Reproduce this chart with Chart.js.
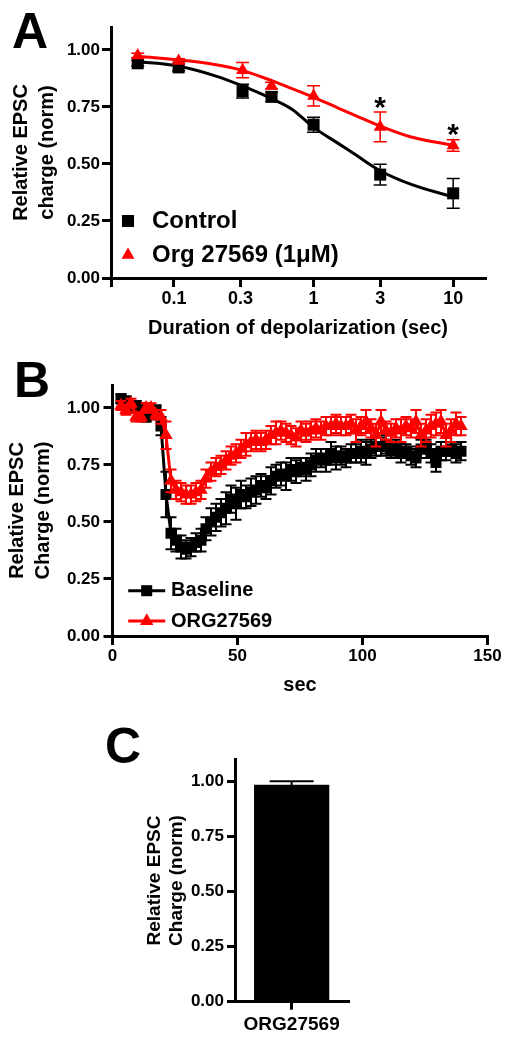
<!DOCTYPE html>
<html>
<head>
<meta charset="utf-8">
<script src="https://cdn.jsdelivr.net/npm/chart.js@4"></script>
<style>
  body { margin: 0; background: #fff; }
  #wrap { position: relative; width: 512px; height: 1044px; }
  canvas { position: absolute; left: 0; }
</style>
</head>
<body>
<div id="wrap">
  <canvas id="chart-a" width="512" height="345" style="top:0"></canvas>
  <canvas id="chart-b" width="512" height="355" style="top:345px"></canvas>
  <canvas id="chart-c" width="512" height="344" style="top:700px"></canvas>
</div>
<script>
// ---- Panel A: depolarization duration (log x) ----
const durA = [0.055, 0.108, 0.31, 0.5, 1, 3, 10];
const controlA = [0.941, 0.923, 0.819, 0.794, 0.672, 0.453, 0.371];
const controlErrA = [0.012, 0.015, 0.03, 0.02, 0.033, 0.045, 0.065];
const orgA = [0.975, 0.951, 0.911, 0.843, 0.798, 0.662, 0.581];
const orgErrA = [0.01, 0.01, 0.033, 0.015, 0.044, 0.065, 0.025];
// fitted curves
const fitXA = [0.055, 0.1, 0.2, 0.3, 0.5, 0.7, 1, 1.5, 2, 3, 5, 10];
const controlFitA = [0.948, 0.932, 0.885, 0.845, 0.786, 0.74, 0.66, 0.59, 0.54, 0.47, 0.41, 0.355];
const orgFitA = [0.972, 0.958, 0.935, 0.912, 0.865, 0.83, 0.792, 0.745, 0.712, 0.666, 0.618, 0.582];
const xMinA = 0.0354;
const xMaxA = 16.9;
const xTicksA = [0.0354, 0.1, 0.3, 1, 3, 10];
const xLabelsA = ['', '0.1', '0.3', '1', '3', '10'];
const starXA = [3, 10];
const starYA = [0.779, 0.661];

// ---- Panel B: time course ----
const timeB = [
  3.4, 5.4, 7.4, 9.4, 11.4, 13.4, 15.4, 17.4, 19.4,
  21.4, 23.4, 25.4, 27.4, 29.4, 31.4, 33.4, 35.4, 37.4, 39.4,
  41.4, 43.4, 45.4, 47.4, 49.4, 51.4, 53.4, 55.4, 57.4, 59.4,
  61.4, 63.4, 65.4, 67.4, 69.4, 71.4, 73.4, 75.4, 77.4, 79.4,
  81.4, 83.4, 85.4, 87.4, 89.4, 91.4, 93.4, 95.4, 97.4, 99.4,
  101.4, 103.4, 105.4, 107.4, 109.4, 111.4, 113.4, 115.4, 117.4, 119.4,
  121.4, 123.4, 125.4, 127.4, 129.4, 131.4, 133.4, 135.4, 137.4, 139.4
];
const baselineB = [
  1.04, 1.03, 1.00, 1.01, 1.00, 0.96, 0.97, 0.99, 0.92,
  0.62, 0.45, 0.42, 0.39, 0.38, 0.39, 0.41, 0.42, 0.47, 0.50,
  0.52, 0.54, 0.56, 0.60, 0.58, 0.62, 0.61, 0.63, 0.64, 0.66,
  0.65, 0.68, 0.70, 0.71, 0.70, 0.73, 0.72, 0.74, 0.73, 0.75,
  0.77, 0.78, 0.77, 0.80, 0.78, 0.79, 0.78, 0.80, 0.80, 0.81,
  0.80, 0.82, 0.83, 0.83, 0.84, 0.81, 0.82, 0.80, 0.81, 0.79,
  0.78, 0.82, 0.83, 0.80, 0.76, 0.81, 0.81, 0.82, 0.80, 0.81
];
const baselineErrB = [
  0.02, 0.02, 0.02, 0.02, 0.02, 0.02, 0.02, 0.02, 0.04,
  0.10, 0.07, 0.05, 0.05, 0.04, 0.04, 0.04, 0.05, 0.05, 0.06,
  0.06, 0.06, 0.07, 0.06, 0.07, 0.06, 0.05, 0.06, 0.06, 0.05,
  0.05, 0.06, 0.05, 0.05, 0.06, 0.05, 0.05, 0.04, 0.05, 0.05,
  0.05, 0.04, 0.05, 0.05, 0.05, 0.04, 0.04, 0.04, 0.04, 0.05,
  0.05, 0.04, 0.04, 0.04, 0.04, 0.03, 0.04, 0.04, 0.03, 0.04,
  0.04, 0.04, 0.03, 0.04, 0.04, 0.04, 0.04, 0.03, 0.04, 0.04
];
const orgB = [
  1.01, 0.99, 1.02, 0.96, 0.96, 1.00, 1.00, 0.97, 0.96,
  0.88, 0.68, 0.64, 0.63, 0.62, 0.62, 0.63, 0.64, 0.69, 0.72,
  0.74, 0.75, 0.77, 0.79, 0.80, 0.82, 0.84, 0.85, 0.86, 0.85,
  0.86, 0.88, 0.89, 0.90, 0.89, 0.88, 0.87, 0.90, 0.89, 0.90,
  0.91, 0.90, 0.92, 0.92, 0.93, 0.92, 0.92, 0.93, 0.90, 0.92,
  0.94, 0.91, 0.88, 0.94, 0.90, 0.89, 0.91, 0.90, 0.92, 0.91,
  0.94, 0.88, 0.90, 0.92, 0.93, 0.94, 0.88, 0.90, 0.93, 0.92
];
const orgErrB = [
  0.02, 0.02, 0.02, 0.02, 0.02, 0.02, 0.02, 0.02, 0.03,
  0.06, 0.05, 0.04, 0.04, 0.04, 0.04, 0.04, 0.04, 0.04, 0.04,
  0.04, 0.04, 0.04, 0.04, 0.04, 0.04, 0.05, 0.04, 0.04, 0.04,
  0.04, 0.04, 0.05, 0.04, 0.04, 0.04, 0.04, 0.04, 0.04, 0.04,
  0.04, 0.04, 0.04, 0.04, 0.04, 0.04, 0.04, 0.04, 0.05, 0.04,
  0.05, 0.04, 0.05, 0.05, 0.04, 0.04, 0.04, 0.05, 0.04, 0.04,
  0.05, 0.05, 0.05, 0.05, 0.05, 0.05, 0.05, 0.05, 0.05, 0.04
];
const xTicksB = [0, 50, 100, 150];

// ---- Panel C: single bar ----
const labelsC = ['ORG27569'];
const valuesC = [0.985];
const errorsC = [0.015];

const yTicks = [0, 0.25, 0.5, 0.75, 1.0];

const FONT = "'Liberation Sans', Arial, sans-serif";
const RED = '#ff0000';
Chart.defaults.font.family = FONT;
Chart.defaults.color = '#000';

const toXY = (xs, ys) => xs.map((x, i) => ({ x, y: ys[i] }));

// vertical SEM bars, drawn just before each dataset's own marks
const errorBars = {
    id: 'errorBars',
    beforeDatasetDraw(chart, args) {
        const ds = chart.data.datasets[args.index];
        if (!ds.errors) return;
        const yScale = chart.scales[args.meta.yAxisID];
        const ctx = chart.ctx;
        ctx.save();
        ctx.strokeStyle = ds.errorColor || ds.borderColor;
        ctx.lineWidth = ds.errorWidth || 1.5;
        const half = (ds.capWidth || 10) / 2;
        args.meta.data.forEach((el, i) => {
            const e = ds.errors[i];
            if (!e) return;
            const raw = ds.data[i];
            const v = typeof raw === 'object' ? raw.y : raw;
            const x = el.x;
            const y1 = yScale.getPixelForValue(v + e);
            const y2 = yScale.getPixelForValue(v - e);
            ctx.beginPath();
            ctx.moveTo(x, y1); ctx.lineTo(x, y2);
            ctx.moveTo(x - half, y1); ctx.lineTo(x + half, y1);
            ctx.moveTo(x - half, y2); ctx.lineTo(x + half, y2);
            ctx.stroke();
        });
        ctx.restore();
    }
};

// legend drawn inside the plot, like the original
const keyBox = {
    id: 'keyBox',
    afterDraw(chart, args, opts) {
        if (!opts.items) return;
        const ctx = chart.ctx;
        ctx.save();
        ctx.font = opts.font;
        ctx.textBaseline = 'middle';
        opts.items.forEach((it, i) => {
            const ds = chart.data.datasets[it.dataset];
            const y = opts.y + i * opts.gap;
            if (opts.line) {
                ctx.strokeStyle = ds.borderColor;
                ctx.lineWidth = ds.borderWidth;
                ctx.beginPath();
                ctx.moveTo(opts.x - opts.line / 2, y);
                ctx.lineTo(opts.x + opts.line / 2, y);
                ctx.stroke();
            }
            ctx.fillStyle = ds.pointBackgroundColor;
            Chart.helpers.drawPoint(ctx, { pointStyle: ds.pointStyle, radius: ds.pointRadius, rotation: 0, borderWidth: 0 }, opts.x, y);
            ctx.fillStyle = '#000';
            ctx.fillText(it.text, opts.textX, y);
        });
        ctx.restore();
    }
};

// panel letter + significance stars
const extras = {
    id: 'extras',
    afterDraw(chart, args, opts) {
        const ctx = chart.ctx;
        ctx.save();
        ctx.fillStyle = '#000';
        if (opts.letter) {
            ctx.font = 'bold 50px ' + FONT;
            ctx.textBaseline = 'alphabetic';
            ctx.textAlign = 'left';
            ctx.fillText(opts.letter, opts.lx, opts.ly);
        }
        if (opts.starsX) {
            ctx.font = 'bold 30px ' + FONT;
            ctx.textAlign = 'center';
            ctx.textBaseline = 'alphabetic';
            opts.starsX.forEach((sx, i) => {
                const px = chart.scales.x.getPixelForValue(sx);
                const py = chart.scales.y.getPixelForValue(opts.starsY[i]);
                ctx.fillText('*', px, py + 17);
            });
        }
        ctx.restore();
    }
};

const axisStyle = (tickLen) => ({
    border: { display: true, width: 3, color: '#000' },
    grid: { drawOnChartArea: false, drawTicks: true, tickLength: tickLen, lineWidth: 3, color: '#000' }
});

const yAxis = (width, title, titleSize, lineHeight, titlePad, tickSize, tickPad, tickLen) => ({
    type: 'linear',
    min: 0,
    max: 1.1,
    ...axisStyle(tickLen),
    afterFit: (scale) => { scale.width = width; },
    afterBuildTicks: (scale) => { scale.ticks = yTicks.map(v => ({ value: v })); },
    ticks: {
        padding: tickPad,
        font: { size: tickSize, weight: 'bold' },
        callback: (v) => Number(v).toFixed(2)
    },
    title: {
        display: true,
        text: title,
        font: { size: titleSize, weight: 'bold', lineHeight },
        padding: { top: titlePad, bottom: 0 }
    }
});

// ---- chart A ----
new Chart(document.getElementById('chart-a'), {
    type: 'line',
    data: {
        datasets: [
            {
                label: 'Control',
                data: toXY(durA, controlA),
                errors: controlErrA,
                showLine: false,
                pointStyle: 'rect',
                pointRadius: 8.5,
                pointBackgroundColor: '#000',
                pointBorderWidth: 0,
                borderColor: '#000',
                errorWidth: 1.5,
                capWidth: 13,
                order: 2
            },
            {
                label: 'Org 27569 (1\u03bcM)',
                data: toXY(durA, orgA),
                errors: orgErrA,
                showLine: false,
                pointStyle: 'triangle',
                pointRadius: 7.5,
                pointBackgroundColor: RED,
                pointBorderWidth: 0,
                borderColor: RED,
                errorWidth: 1.5,
                capWidth: 13,
                order: 1
            },
            {
                label: 'Control fit',
                data: toXY(fitXA, controlFitA),
                borderColor: '#000',
                borderWidth: 3,
                pointRadius: 0,
                cubicInterpolationMode: 'monotone',
                order: 4
            },
            {
                label: 'Org fit',
                data: toXY(fitXA, orgFitA),
                borderColor: RED,
                borderWidth: 3,
                pointRadius: 0,
                cubicInterpolationMode: 'monotone',
                order: 3
            }
        ]
    },
    options: {
        responsive: false,
        animation: false,
        devicePixelRatio: 1,
        layout: { padding: { left: 0, top: 27, right: 27, bottom: 0 } },
        plugins: {
            legend: { display: false },
            tooltip: { enabled: false },
            keyBox: {
                x: 128, textX: 152, y: 221, gap: 34,
                font: 'bold 24px ' + FONT,
                items: [{ dataset: 0, text: 'Control' }, { dataset: 1, text: 'Org 27569 (1\u03bcM)' }]
            },
            extras: { letter: 'A', lx: 12, ly: 48, starsX: starXA, starsY: starYA }
        },
        scales: {
            x: {
                type: 'logarithmic',
                min: xMinA,
                max: xMaxA,
                ...axisStyle(9),
                afterFit: (scale) => { scale.height = 67; },
                afterBuildTicks: (scale) => { scale.ticks = xTicksA.map(v => ({ value: v })); },
                ticks: {
                    autoSkip: false,
                    maxRotation: 0,
                    padding: 1,
                    font: { size: 18, weight: 'bold' },
                    callback: (v) => { const i = xTicksA.indexOf(Number(v)); return i < 0 ? '' : xLabelsA[i]; }
                },
                title: {
                    display: true,
                    text: 'Duration of depolarization (sec)',
                    font: { size: 20, weight: 'bold', lineHeight: 1.2 },
                    padding: { top: 0, bottom: 5 }
                }
            },
            y: yAxis(111, ['Relative EPSC', 'charge (norm)'], 20, 1.27, 9, 17, 2, 9)
        }
    },
    plugins: [errorBars, keyBox, extras]
});

// ---- chart B ----
new Chart(document.getElementById('chart-b'), {
    type: 'line',
    data: {
        datasets: [
            {
                label: 'Baseline',
                data: toXY(timeB, baselineB),
                errors: baselineErrB,
                borderColor: '#000',
                borderWidth: 3,
                pointStyle: 'rect',
                pointRadius: 7.8,
                pointBackgroundColor: '#000',
                pointBorderWidth: 0,
                errorWidth: 2,
                capWidth: 11,
                order: 2
            },
            {
                label: 'ORG27569',
                data: toXY(timeB, orgB),
                errors: orgErrB,
                borderColor: RED,
                borderWidth: 3,
                pointStyle: 'triangle',
                pointRadius: 7.8,
                pointBackgroundColor: RED,
                pointBorderWidth: 0,
                errorWidth: 2,
                capWidth: 11,
                order: 1
            }
        ]
    },
    options: {
        responsive: false,
        animation: false,
        devicePixelRatio: 1,
        layout: { padding: { left: 0, top: 40, right: 24.5, bottom: 0 } },
        plugins: {
            legend: { display: false },
            tooltip: { enabled: false },
            keyBox: {
                x: 146.7, textX: 171, y: 245.7, gap: 30.3, line: 37,
                font: 'bold 20px ' + FONT,
                items: [{ dataset: 0, text: 'Baseline' }, { dataset: 1, text: 'ORG27569' }]
            },
            extras: { letter: 'B', lx: 14, ly: 51.7 }
        },
        scales: {
            x: {
                type: 'linear',
                min: 0,
                max: 150,
                ...axisStyle(9),
                afterFit: (scale) => { scale.height = 64; },
                afterBuildTicks: (scale) => { scale.ticks = xTicksB.map(v => ({ value: v })); },
                ticks: {
                    autoSkip: false,
                    maxRotation: 0,
                    padding: 1.5,
                    font: { size: 17, weight: 'bold' }
                },
                title: {
                    display: true,
                    text: 'sec',
                    font: { size: 20, weight: 'bold', lineHeight: 1.2 },
                    padding: { top: 0, bottom: 3 }
                }
            },
            y: yAxis(112.5, ['Relative EPSC', 'Charge (norm)'], 20, 1.3, 4.3, 17, 3.5, 9)
        }
    },
    plugins: [errorBars, keyBox, extras]
});

// ---- chart C ----
new Chart(document.getElementById('chart-c'), {
    type: 'bar',
    data: {
        labels: labelsC,
        datasets: [{
            label: 'ORG27569',
            data: valuesC,
            errors: errorsC,
            backgroundColor: '#000',
            borderColor: '#000',
            borderWidth: 0,
            errorWidth: 2,
            capWidth: 44,
            categoryPercentage: 1,
            barPercentage: 0.664
        }]
    },
    options: {
        responsive: false,
        animation: false,
        devicePixelRatio: 1,
        layout: { padding: { left: 130, top: 59.3, right: 163.7, bottom: 0 } },
        plugins: {
            legend: { display: false },
            tooltip: { enabled: false },
            extras: { letter: 'C', lx: 105, ly: 63 }
        },
        scales: {
            x: {
                type: 'category',
                border: { display: true, width: 3, color: '#000' },
                grid: { offset: false, drawOnChartArea: false, drawTicks: true, tickLength: 8, lineWidth: 3, color: '#000' },
                afterFit: (scale) => { scale.height = 42.3; },
                ticks: { padding: 4, font: { size: 19, weight: 'bold' } }
            },
            y: yAxis(105, ['Relative EPSC', 'Charge (norm)'], 19, 1.17, 13.9, 17, 3, 8)
        }
    },
    plugins: [errorBars, extras]
});
</script>
</body>
</html>
